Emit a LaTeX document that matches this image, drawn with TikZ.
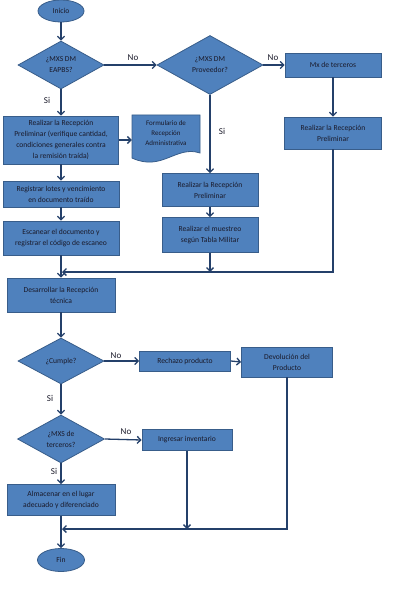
\documentclass[tikz,border=0pt]{standalone}
\usepackage{fontspec}
\setmainfont{Carlito}
\usetikzlibrary{shapes.geometric,arrows.meta}
\definecolor{boxfill}{HTML}{4F81BD}
\definecolor{boxline}{HTML}{385D8A}
\definecolor{conn}{HTML}{24406A}
\definecolor{txt}{HTML}{1A1A2A}
\tikzset{
  base/.style={fill=boxfill, draw=boxline, line width=0.8pt, text=txt,
    font=\fontsize{7.6}{11}\selectfont, align=center, inner sep=0pt},
  procbox/.style={base, rectangle},
  decision/.style={base, diamond},
  terminal/.style={base, ellipse},
  lbl/.style={text=txt, font=\fontsize{9}{10}\selectfont, inner sep=0pt},
  doctext/.style={text=txt, font=\fontsize{7}{10}\selectfont, align=center, inner sep=0pt},
  conn/.style={draw=conn, line width=1.3pt, -{Straight Barb[length=3.5pt,width=7pt]}},
  plain/.style={draw=conn, line width=1.3pt},
}
\begin{document}
\begin{tikzpicture}[x=1pt,y=-1pt]
\useasboundingbox (0,0) rectangle (402,599);
\fill[white] (0,0) rectangle (402,599);

% nodes
\node[terminal, minimum width=46pt, minimum height=22pt] (inicio) at (61,11) {Inicio};
\node[decision, minimum width=86pt, minimum height=48pt] (d1) at (61,65) {¿MXS DM\\EAPBS?};
\node[decision, minimum width=106pt, minimum height=59pt] (d2) at (210,65) {¿MXS DM\\Proveedor?};
\node[procbox, minimum width=96pt, minimum height=24pt] (mx) at (333,65) {Mx de terceros};
\node[procbox, minimum width=97pt, minimum height=32pt] (rp3) at (333,133) {Realizar la Recepción\\Preliminar};
\node[procbox, minimum width=115pt, minimum height=48pt] (b1) at (61,140) {Realizar la Recepción\\Preliminar (verifique cantidad,\\condiciones generales contra\\la remisión traída)};

% document shape
\filldraw[fill=boxfill, draw=boxline, line width=0.8pt]
  (132,115) -- (200,115) -- (200,153)
  .. controls (176,145) and (162,172) .. (132,158) -- cycle;
\node[doctext, minimum width=68pt] (form) at (166,133) {Formulario de\\Recepción\\Administrativa};

\node[procbox, minimum width=116pt, minimum height=26pt] (b2) at (61,194) {Registrar lotes y vencimiento\\en documento traído};
\node[procbox, minimum width=116pt, minimum height=34pt] (b3) at (61,238) {Escanear el documento y\\registrar el código de escaneo};
\node[procbox, minimum width=96pt, minimum height=33pt] (rp2) at (210,190) {Realizar la Recepción\\Preliminar};
\node[procbox, minimum width=96pt, minimum height=35pt] (mu) at (210,235) {Realizar el muestreo\\según Tabla Militar};
\node[procbox, minimum width=108pt, minimum height=34pt] (dr) at (61,295) {Desarrollar la Recepción\\técnica};
\node[decision, minimum width=86pt, minimum height=46pt] (d3) at (61,361) {¿Cumple?};
\node[procbox, minimum width=91pt, minimum height=20pt] (rech) at (185,361) {Rechazo producto};
\node[procbox, minimum width=91pt, minimum height=30pt] (dev) at (287,362) {Devolución del\\Producto};
\node[decision, minimum width=87pt, minimum height=48pt] (d4) at (61,439) {¿MXS de\\terceros?};
\node[procbox, minimum width=90pt, minimum height=21pt] (ing) at (187,440) {Ingresar inventario};
\node[procbox, minimum width=108pt, minimum height=31pt] (alm) at (61,500) {Almacenar en el lugar\\adecuado y diferenciado};
\node[terminal, minimum width=47pt, minimum height=23pt] (fin) at (61,560) {Fin};

\coordinate (j1) at (62,272);
\coordinate (j2) at (62,529);

% labels
\node[lbl] (l1) at (133,58) {No};
\node[lbl] (l2) at (47,100) {Si};
\node[lbl] (l3) at (273,58) {No};
\node[lbl] (l4) at (222,131) {Si};
\node[lbl] (l5) at (116,356) {No};
\node[lbl] (l6) at (50,398) {Si};
\node[lbl] (l7) at (126,432) {No};
\node[lbl] (l8) at (54,471) {Si};

% connectors
\draw[conn] (inicio) -- (d1);
\draw[conn] (d1) -- (b1);
\draw[conn] (d1.east) -- (d2.west);
\draw[conn] (d2.east) -- (mx.west);
\draw[conn] (mx) -- (rp3);
\draw[conn] (d2.south) -- (rp2.north);
\draw[conn] (b1.east) -- (b1.east -| form.west);
\draw[conn] (b1) -- (b2);
\draw[conn] (b2) -- (b3);
\draw[conn] (b3) -- (dr);
\draw[conn] (rp2) -- (mu);
\draw[conn] (mu.south) -- (mu.south |- j1);
\draw[conn] (rp3.south) |- (j1);
\draw[conn] (dr) -- (d3);
\draw[conn] (d3.east) -- (rech.west);
\draw[conn] (rech.east) -- (dev.west);
\draw[conn] (dev.south) |- (j2);
\draw[conn] (d3) -- (d4);
\draw[conn] (d4.east) -- (ing.west);
\draw[conn] (ing.south) -- (ing.south |- j2);
\draw[conn] (d4) -- (alm);
\draw[conn] (alm) -- (fin);
\end{tikzpicture}
\end{document}
